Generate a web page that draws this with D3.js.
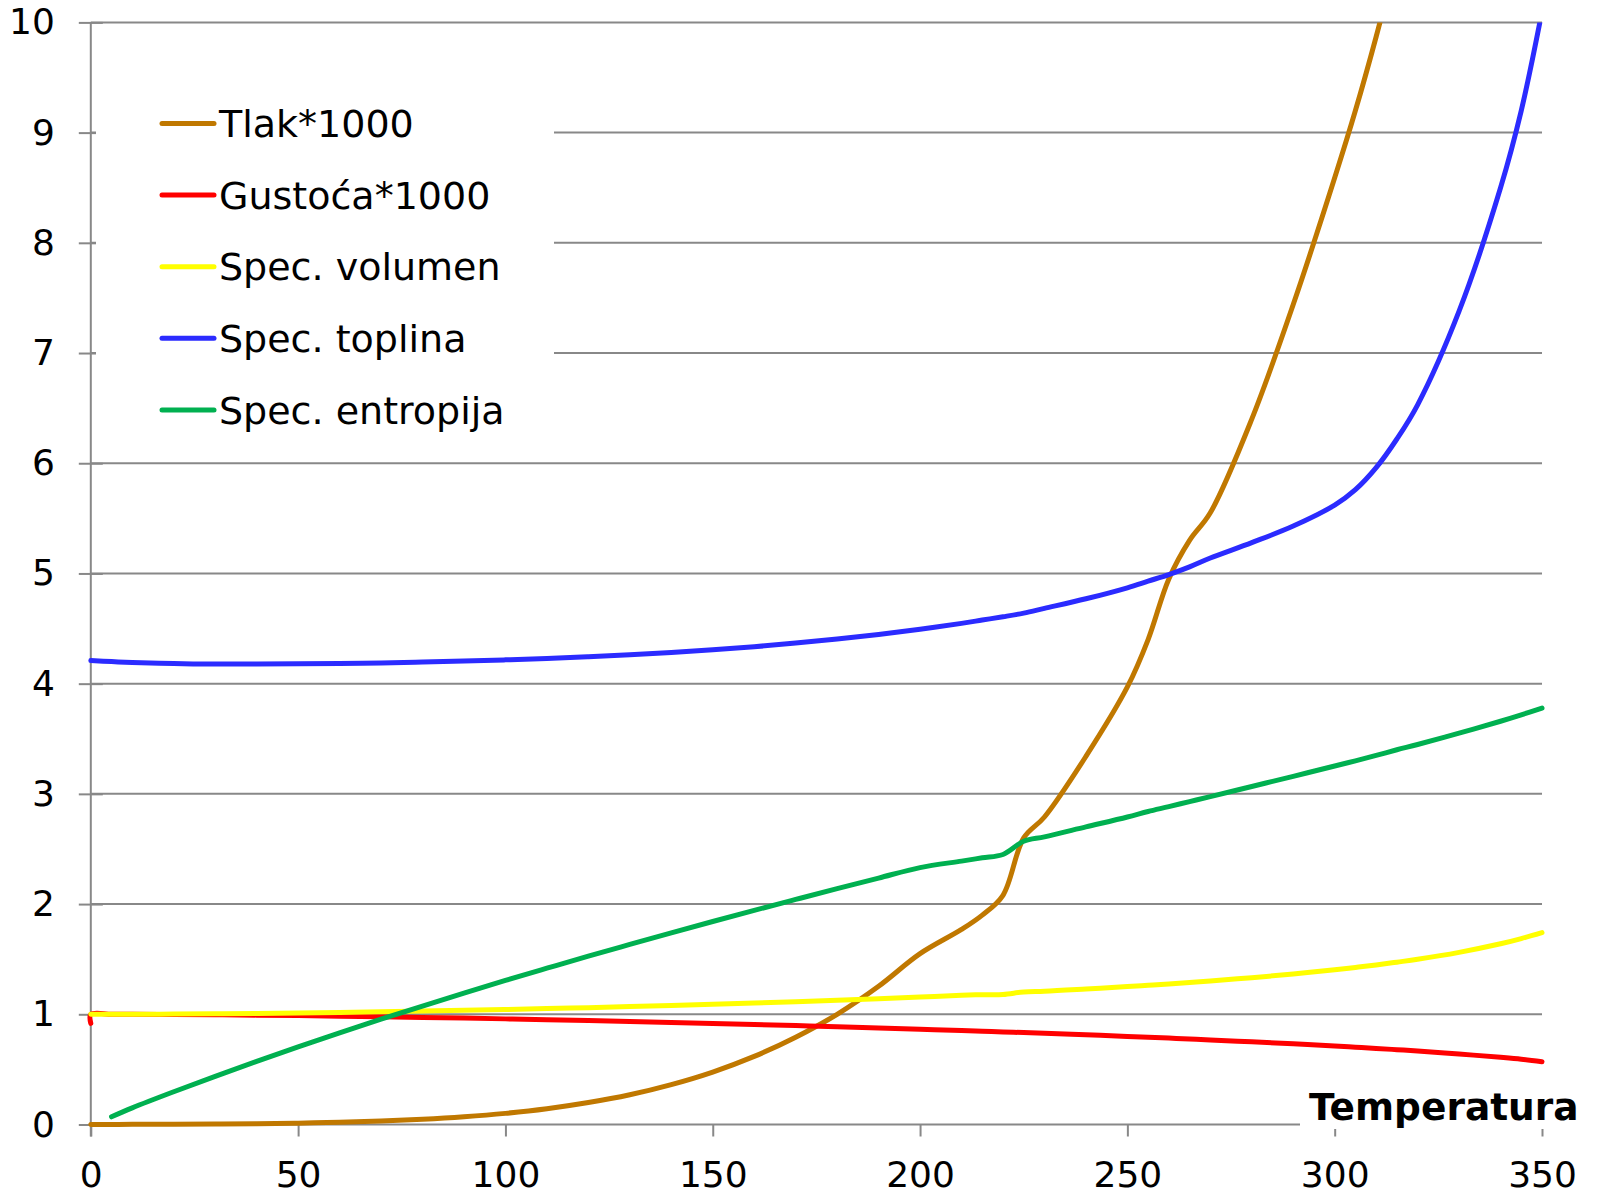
<!DOCTYPE html>
<html>
<head>
<meta charset="utf-8">
<script src="https://cdn.jsdelivr.net/npm/d3@7/dist/d3.min.js"></script>
<style>
  body { margin: 0; background: #fff; }
  svg { display: block; font-family: "DejaVu Sans", Verdana, sans-serif; }
</style>
</head>
<body>
<div id="chart"></div>
<script>
// temperatures (°C) of the table rows
var temps = [0, 0.01, 5, 10, 20, 30, 40, 50, 60, 70, 80, 90, 100, 110, 120, 130, 140, 150, 160, 170, 180, 190, 200,
    210, 215, 220, 225, 230, 240, 250, 255, 260, 265, 270, 280, 290, 300, 305, 310, 315, 320, 330, 340, 345, 350];

var tlak = [null, 0.0006, 0.0009, 0.0012, 0.0023, 0.0042, 0.0074, 0.0123, 0.0199, 0.0312, 0.0474, 0.0701, 0.101,
    0.143, 0.199, 0.270, 0.362, 0.476, 0.618, 0.792, 1.00, 1.254, 1.55,
    1.77, 1.90, 2.08, 2.60, 2.79, 3.34, 3.97, 4.40, 4.95, 5.30, 5.55, 6.40, 7.44, 8.59, 9.2, 9.87, 10.6,
    null, null, null, null, null];

var gustoca = [0.917, 0.9998, 1.0, 0.9997, 0.9982, 0.9957, 0.9922, 0.988, 0.9832, 0.9778, 0.9718, 0.9653, 0.9584,
    0.951, 0.9431, 0.9348, 0.9261, 0.917, 0.9074, 0.8975, 0.887, 0.876, 0.8647,
    0.8528, 0.8467, 0.8403, 0.8339, 0.8273, 0.8137, 0.7993, 0.7917, 0.784, 0.7759, 0.7676, 0.7503, 0.7321, 0.7124,
    0.7017, 0.6906, 0.6788, 0.6665, 0.6394, 0.61, 0.593, 0.57];

var volumen = [null, 1.0002, 1.0, 1.0003, 1.0018, 1.0043, 1.0078, 1.0121, 1.0171, 1.0228, 1.029, 1.0359, 1.0435,
    1.0515, 1.0603, 1.0697, 1.0797, 1.0905, 1.102, 1.1143, 1.1274, 1.1415, 1.1565,
    1.1726, 1.178, 1.18, 1.203, 1.2088, 1.2291, 1.2512, 1.263, 1.2755, 1.2887, 1.3023, 1.3321, 1.3655, 1.4036,
    1.425, 1.4475, 1.473, 1.4992, 1.562, 1.6396, 1.687, 1.7411];

var toplina = [null, 4.21, 4.20, 4.192, 4.182, 4.178, 4.178, 4.18, 4.183, 4.188, 4.196, 4.205, 4.216,
    4.228, 4.244, 4.262, 4.283, 4.307, 4.335, 4.368, 4.405, 4.447, 4.494,
    4.547, 4.577, 4.607, 4.64, 4.683, 4.77, 4.87, 4.93, 4.99, 5.06, 5.14, 5.28, 5.43, 5.62,
    5.76, 5.96, 6.22, 6.53, 7.38, 8.50, 9.2, 10.1];

var entropija = [null, null, 0.07, 0.151, 0.297, 0.437, 0.572, 0.704, 0.831, 0.955, 1.075, 1.193, 1.307,
    1.418, 1.528, 1.634, 1.739, 1.842, 1.943, 2.042, 2.14, 2.236, 2.331,
    2.39, 2.42, 2.45, 2.57, 2.61, 2.70, 2.79, 2.84, 2.884, 2.93, 2.975, 3.067, 3.159, 3.253,
    3.30, 3.349, 3.40, 3.448, 3.551, 3.659, 3.717, 3.778];

var seriesNames = ["Tlak*1000", "Gustoća*1000", "Spec. volumen", "Spec. toplina", "Spec. entropija"];
var seriesColors = ["#C07800", "#FF0000", "#FFFF00", "#2B2BFF", "#00B050"];
var seriesValues = [tlak, gustoca, volumen, toplina, entropija];

var xTicks = [0, 50, 100, 150, 200, 250, 300, 350];
var yTicks = [0, 1, 2, 3, 4, 5, 6, 7, 8, 9, 10];
var axisTitle = "Temperatura";

var width = 1600, height = 1195;
var margin = {top: 22.4, right: 58, bottom: 70.5, left: 90.8};

var svg = d3.select("#chart").append("svg")
    .attr("width", width)
    .attr("height", height);

var x = d3.scaleLinear().domain([0, 350]).range([margin.left, width - margin.right]);
var y = d3.scaleLinear().domain([0, 10]).range([height - margin.bottom, margin.top]);

var gridColor = "#888888";

// horizontal gridlines
svg.append("g").selectAll("line")
    .data(yTicks)
    .enter().append("line")
    .attr("x1", x(0))
    .attr("x2", x(350))
    .attr("y1", d => y(d))
    .attr("y2", d => y(d))
    .attr("stroke", gridColor)
    .attr("stroke-width", 2);

// y axis with ticks crossing the axis
var yAxis = svg.append("g")
    .attr("transform", `translate(${x(0)},0)`)
    .call(d3.axisLeft(y).tickValues(yTicks).tickSize(12).tickPadding(24).tickFormat(d3.format("d")));
yAxis.select(".domain").remove();
yAxis.selectAll(".tick line").attr("x2", 12).attr("x1", -12).attr("stroke", gridColor).attr("stroke-width", 2);
yAxis.selectAll(".tick text").attr("font-size", 36).attr("fill", "#000").attr("x", -36)
    .attr("font-family", "DejaVu Sans, Verdana, sans-serif");
svg.append("line")
    .attr("x1", x(0)).attr("x2", x(0))
    .attr("y1", y(10)).attr("y2", y(0) + 12)
    .attr("stroke", gridColor).attr("stroke-width", 2);

// x axis
var xAxis = svg.append("g")
    .attr("transform", `translate(0,${y(0)})`)
    .call(d3.axisBottom(x).tickValues(xTicks).tickSize(12).tickPadding(25).tickFormat(d3.format("d")));
xAxis.select(".domain").remove();
xAxis.selectAll(".tick line").attr("stroke", gridColor).attr("stroke-width", 2);
xAxis.selectAll(".tick text").attr("font-size", 36).attr("fill", "#000")
    .attr("font-family", "DejaVu Sans, Verdana, sans-serif");

// clip to the plot area
svg.append("clipPath").attr("id", "plot-clip")
    .append("rect")
    .attr("x", x(0) - 10)
    .attr("y", y(10))
    .attr("width", x(350) - x(0) + 20)
    .attr("height", y(0) - y(10) + 10);

var line = d3.line()
    .defined(d => d[1] !== null)
    .x(d => x(d[0]))
    .y(d => y(d[1]))
    .curve(d3.curveCatmullRom.alpha(0.5));

var lines = svg.append("g").attr("clip-path", "url(#plot-clip)");
seriesValues.forEach(function(vals, i) {
    var pts = temps.map((t, j) => [t, vals[j]]).filter(d => d[1] !== null);
    lines.append("path")
        .datum(pts)
        .attr("fill", "none")
        .attr("stroke", seriesColors[i])
        .attr("stroke-width", 5)
        .attr("stroke-linejoin", "round")
        .attr("stroke-linecap", "round")
        .attr("d", line);
});

// legend
svg.append("rect")
    .attr("x", 96).attr("y", 80)
    .attr("width", 458).attr("height", 370)
    .attr("fill", "#fff");

var legend = svg.append("g").selectAll("g")
    .data(seriesNames)
    .enter().append("g")
    .attr("transform", (d, i) => `translate(0,${123.5 + i * 71.6})`);

legend.append("line")
    .attr("x1", 162).attr("x2", 214)
    .attr("y1", 0).attr("y2", 0)
    .attr("stroke", (d, i) => seriesColors[i])
    .attr("stroke-width", 5)
    .attr("stroke-linecap", "round");

legend.append("text")
    .attr("x", 219)
    .attr("y", 0)
    .attr("dy", "0.36em")
    .attr("font-size", 38)
    .attr("fill", "#000")
    .text(d => d);

// axis title
svg.append("rect")
    .attr("x", 1300).attr("y", 1082)
    .attr("width", 300).attr("height", 47)
    .attr("fill", "#fff");

svg.append("text")
    .attr("x", 1309)
    .attr("y", 1120)
    .attr("font-size", 37.5)
    .attr("font-weight", "bold")
    .attr("fill", "#000")
    .text(axisTitle);
</script>
</body>
</html>
